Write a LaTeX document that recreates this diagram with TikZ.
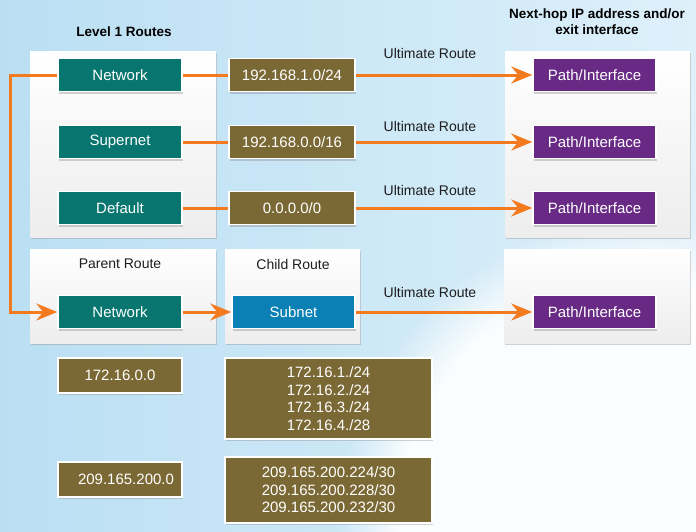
\documentclass[tikz,border=0pt]{standalone}
\usepackage{fontspec}
\setmainfont{Liberation Sans}
\usetikzlibrary{arrows.meta,shadows,fadings}
\definecolor{bgl}{RGB}{186,223,243}
\definecolor{bgr}{RGB}{222,240,250}
\definecolor{tealc}{RGB}{8,117,111}
\definecolor{olivec}{RGB}{123,105,53}
\definecolor{purplec}{RGB}{104,42,133}
\definecolor{bluec}{RGB}{10,128,181}
\definecolor{orangec}{RGB}{244,122,32}
\definecolor{txt}{RGB}{30,30,30}
\tikzset{
  panel/.style={draw=none, top color=white, bottom color=black!7, inner sep=0pt,
    drop shadow={shadow xshift=0.5pt, shadow yshift=-2pt, opacity=0.35}},
  cbox/.style={draw=white, line width=1.5pt, text=white, inner sep=0pt,
    minimum width=124pt, minimum height=33pt, font=\fontsize{15}{17.5}\selectfont,
    drop shadow={shadow xshift=1pt, shadow yshift=-2pt, opacity=0.35}},
  tealbox/.style={cbox, fill=tealc},
  olivebox/.style={cbox, fill=olivec},
  purplebox/.style={cbox, fill=purplec, minimum width=123pt},
  bluebox/.style={cbox, fill=bluec, minimum width=123pt},
  lbl/.style={text=txt, inner sep=0pt},
  ttl/.style={text=black, inner sep=0pt, font=\fontsize{13.5}{16}\selectfont\bfseries, align=center},
  oline/.style={draw=orangec, line width=3pt},
  oarrow/.style={oline, -{Stealth[length=21pt,width=17pt,inset=7pt]}},
}
\begin{document}
\begin{tikzpicture}[x=1pt,y=-1pt,font=\fontsize{14}{16}\selectfont]
\useasboundingbox (0,0) rectangle (696,531);
\shade[left color=bgl, right color=bgr] (0,0) rectangle (696,531);
\fill[white, path fading=circle with fuzzy edge 20 percent, opacity=0.9] (640,520) circle (300);

% titles
\node[ttl] (t1) at (124,32) {Level 1 Routes};
\node[ttl] (t2) at (597,22) {Next-hop IP address and/or\\exit interface};

% panels
\node[panel, minimum width=186pt, minimum height=186pt] (p1) at (123,144) {};
\node[panel, minimum width=185pt, minimum height=186pt] (p2) at (597.5,144) {};
\node[panel, minimum width=186pt, minimum height=94pt] (p3) at (123,296) {};
\node[panel, minimum width=135pt, minimum height=94pt] (p4) at (292.5,296) {};
\node[panel, minimum width=186pt, minimum height=94pt] (p5) at (597,296) {};

\node[lbl] (pr) at (120,264) {Parent Route};
\node[lbl] (cr) at (293,264) {Child Route};

% level 1 boxes
\node[tealbox] (n1) at (120,75) {Network};
\node[tealbox] (s1) at (120,142) {Supernet};
\node[tealbox] (d1) at (120,208) {Default};
\node[olivebox, minimum width=126pt] (o1) at (292,75) {192.168.1.0/24};
\node[olivebox, minimum width=126pt] (o2) at (292,142) {192.168.0.0/16};
\node[olivebox, minimum width=126pt] (o3) at (292,208) {0.0.0.0/0};
\node[purplebox] (i1) at (594.5,75) {Path/Interface};
\node[purplebox] (i2) at (594.5,142) {Path/Interface};
\node[purplebox] (i3) at (594.5,208) {Path/Interface};

% lower boxes
\node[tealbox] (n2) at (120,312) {Network};
\node[bluebox] (sb) at (293.5,312) {Subnet};
\node[purplebox] (i4) at (594.5,312) {Path/Interface};

% ultimate route labels
\node[lbl] (u1) at (430,53) {Ultimate Route};
\node[lbl] (u2) at (430,126) {Ultimate Route};
\node[lbl] (u3) at (430,190) {Ultimate Route};
\node[lbl] (u4) at (430,292) {Ultimate Route};

% connectors
\draw[oline] (n1.east) -- (o1.west);
\draw[oline] (s1.east) -- (o2.west);
\draw[oline] (d1.east) -- (o3.west);
\draw[oarrow] (o1.east) -- (i1.west);
\draw[oarrow] (o2.east) -- (i2.west);
\draw[oarrow] (o3.east) -- (i3.west);
\coordinate (c1) at (10,75);
\coordinate (c2) at (10,312);
\draw[oarrow, line join=miter] (n1.west) -- (c1) -- (c2) -- (n2.west);
\draw[oarrow] (n2.east) -- (sb.west);
\draw[oarrow] (sb.east) -- (i4.west);

% bottom olive boxes
\node[olivebox, minimum height=35pt] (a1) at (120,375.5) {172.16.0.0};
\node[olivebox, minimum width=207pt, minimum height=81pt, align=center] (b1) at (328.5,398.5)
  {172.16.1./24\\172.16.2./24\\172.16.3./24\\172.16.4./28};
\node[olivebox, minimum height=35pt] (a2) at (120,479.5) {\hspace{12pt}209.165.200.0};
\node[olivebox, minimum width=207pt, minimum height=66pt, align=center] (b2) at (328.5,490)
  {209.165.200.224/30\\209.165.200.228/30\\209.165.200.232/30};
\end{tikzpicture}
\end{document}
